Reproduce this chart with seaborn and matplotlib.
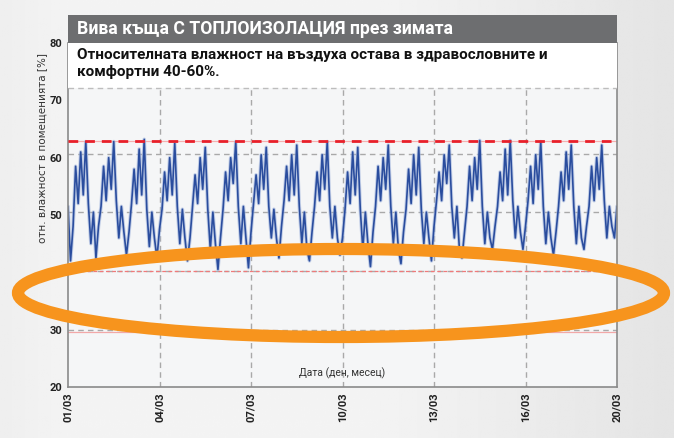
import numpy as np
import pandas as pd
import matplotlib
matplotlib.use("Agg")
import matplotlib.pyplot as plt
from matplotlib.patches import Rectangle, Ellipse
import seaborn as sns

# ---------------- data ----------------
title = "Вива къща С ТОПЛОИЗОЛАЦИЯ през зимата"
subtitle = "Относителната влажност на въздуха остава в здравословните и\nкомфортни 40-60%."
ylabel = "отн. влажност в помещенията [%]"
xlabel = "Дата (ден, месец)"
tick_pos = [0, 3, 6, 9, 12, 15, 18]
tick_labels = ["01/03", "04/03", "07/03", "10/03", "13/03", "16/03", "20/03"]
y_ticks = [20, 30, 40, 50, 60, 70, 80]
upper_limit = 62.9
lower_limit = 40.3
lower_faint = 29.6
points_per_day = 12

day01 = [51.5, 42, 48, 58.5, 52, 61, 53.5, 62.8, 52, 45, 50.5, 42.5]
day02 = [48, 51.5, 58.5, 52.5, 60, 54.5, 62.8, 52.5, 46, 51.5, 47, 43]
day03 = [47, 52, 58, 52, 61.5, 53.5, 63.2, 51, 44.5, 50.5, 46, 42.5]
day04 = [47.5, 51, 57.5, 52.5, 60, 53.5, 62.5, 51.5, 45, 51, 46, 42]
day05 = [46, 51.5, 57, 52, 60, 54.5, 61.8, 51, 44, 50.5, 45, 40.5]
day06 = [46, 51, 57.5, 52.5, 60, 55.5, 62.8, 51.5, 45, 51.5, 46, 40.8]
day07 = [47, 52, 57, 52, 60.5, 54.5, 61.8, 51.5, 46, 51, 46, 42.5]
day08 = [48, 52.5, 58.5, 52.5, 60.5, 53.5, 62.2, 51.5, 45, 50.5, 44, 42]
day09 = [47, 51.5, 57.5, 52.5, 60.5, 54.5, 62.8, 51.5, 46, 51.5, 46, 43]
day10 = [46, 51, 57.5, 52, 61, 53.5, 61.8, 51, 44, 50.5, 45, 41]
day11 = [47, 51.5, 58.5, 52.5, 60, 54.5, 62.2, 51.5, 45, 50.5, 44, 41.5]
day12 = [47, 51, 58, 52, 60.5, 53.5, 61.8, 51, 45, 50.5, 46, 42]
day13 = [48, 52.5, 57.5, 52.5, 60.5, 55.5, 62.2, 51.5, 46, 51.5, 44, 42.5]
day14 = [47, 51.5, 58.5, 52.5, 60, 54.5, 63.0, 51.5, 45, 50.5, 46, 44]
day15 = [48, 51.5, 57.5, 52.5, 61.5, 53.5, 63.0, 52.5, 46, 51.5, 47, 44]
day16 = [48, 52.5, 58.5, 52, 60.5, 54.5, 62.8, 51.5, 45, 50.5, 46, 43]
day17 = [47, 51.5, 57.5, 52.5, 61, 54.5, 62.2, 51.5, 45, 51.5, 46, 44]
day18 = [48, 51.5, 58.5, 52.5, 60, 54.5, 62.2, 52.5, 46, 51.5, 48, 46]
last_value = [51.5]

humidity = (day01 + day02 + day03 + day04 + day05 + day06 + day07 + day08 + day09
            + day10 + day11 + day12 + day13 + day14 + day15 + day16 + day17 + day18
            + last_value)
time_days = np.arange(len(humidity)) / points_per_day
df = pd.DataFrame({"day": time_days, "rh": humidity})

# ---------------- style ----------------
sns.set_style("white")
narrow = ["Liberation Sans Narrow", "Roboto", "DejaVu Sans"]
plt.rcParams["font.family"] = ["DejaVu Sans"]

W, H = 674, 438
fig = plt.figure(figsize=(W / 100, H / 100), dpi=100)

# background gradient
bg = fig.add_axes([0, 0, 1, 1], zorder=-10)
grad = np.linspace(0, 1, 256)
vals = 0.955 - 0.06 * np.clip((grad - 0.55) / 0.45, 0, 1) - 0.02 * np.clip((0.1 - grad) / 0.1, 0, 1)
img = np.tile(vals, (10, 1))
bg.imshow(img, cmap="gray", vmin=0, vmax=1, aspect="auto", extent=[0, 1, 0, 1])
bg.set_axis_off()

left, right = 68 / W, 617 / W
bottom, top = 1 - 387 / H, 1 - 43 / H
ax = fig.add_axes([left, bottom, right - left, top - bottom])
ax.set_facecolor("#f5f6f7")

# grid lines
grid_kw = dict(color="#a9a9a9", lw=1.0, dashes=(4, 3), zorder=1)
for xp in tick_pos[1:-1]:
    ax.axvline(xp, **grid_kw)
for yp in [30, 40.3, 50.5, 60.7]:
    ax.axhline(yp, **grid_kw)

# threshold lines
ax.axhline(lower_faint, color="#f2a8a8", lw=0.9, zorder=1.5)
ax.axhline(lower_limit, color="#f07a7a", lw=0.9, dashes=(3, 2), zorder=1.5)
ax.axhline(upper_limit, color="#f5b0b0", lw=0.9, zorder=1.5)
ax.axhline(upper_limit, color="#e8202a", lw=2.0, dashes=(3.5, 2.5), zorder=3)

# data line
sns.lineplot(data=df, x="day", y="rh", ax=ax, color="#9fb3dc", lw=2.6, zorder=2, alpha=0.6)
sns.lineplot(data=df, x="day", y="rh", ax=ax, color="#2a4d9e", lw=1.2, zorder=2.5)

ax.set_xlim(0, 18)
ax.set_ylim(20, 80)

# subtitle white box
box_bottom = 72.1
ax.add_patch(Rectangle((0, box_bottom), 18, 80 - box_bottom, facecolor="white",
                       edgecolor="none", zorder=4))
ax.axhline(box_bottom, color="#bdbdbd", lw=1.0, dashes=(4, 3), zorder=4.5)

# title bar above axes
bar_h = 28 / (387 - 43)
ax.add_patch(Rectangle((0, 1), 1, bar_h, transform=ax.transAxes, facecolor="#6d6e70",
                       edgecolor="none", clip_on=False, zorder=5))
ax.text(0.016, 1 + bar_h / 2, title, transform=ax.transAxes, color="white",
        fontsize=12.7, fontweight="bold", family=narrow, va="center", ha="left",
        zorder=6, clip_on=False)
ax.text(0.016, 0.985, subtitle, transform=ax.transAxes, color="#111111",
        fontsize=11.0, fontweight="bold", family=narrow, va="top", ha="left",
        linespacing=1.3, zorder=6)

# ticks
ax.set_xticks(tick_pos)
ax.set_xticklabels(tick_labels, rotation=90, fontsize=8, fontweight="bold",
                   family=narrow, color="#222222")
ax.set_yticks(y_ticks)
ax.set_yticklabels([str(v) for v in y_ticks], fontsize=8, fontweight="bold",
                   family=narrow, color="#222222")
ax.tick_params(axis="both", length=0, pad=4)
ax.set_xlabel("")
ax.set_ylabel("")

for s in ["left", "bottom", "right"]:
    ax.spines[s].set_color("#8a8a8a")
    ax.spines[s].set_linewidth(1.2)
ax.spines["top"].set_visible(False)

ax.text(0.5, 0.022, xlabel, transform=ax.transAxes, fontsize=7.5, family=narrow,
        ha="center", va="bottom", color="#333333", zorder=6)
fig.text(42 / W, 1 - 148 / H, ylabel, rotation=90, fontsize=7.5, ha="center",
         va="center", color="#333333")

# orange ellipse
ell = Ellipse((341 / W, 1 - 293 / H), 646 / W, 88 / H, transform=fig.transFigure,
              facecolor="none", edgecolor="#f7941d", lw=8.8, zorder=20)
fig.patches.append(ell)

fig.savefig("out.png", dpi=100)
